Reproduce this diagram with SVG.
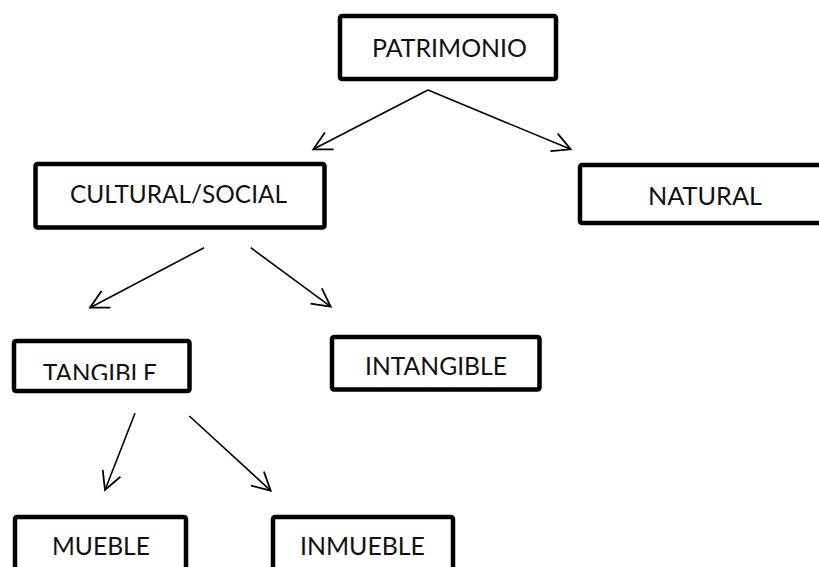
<svg xmlns="http://www.w3.org/2000/svg" width="819" height="567" viewBox="0 0 819 567">
<style>
.box{fill:#fff;stroke:#000;stroke-width:4.5;}
.lbl{font-family:Lato,"Liberation Sans",sans-serif;font-size:25px;fill:#111;text-anchor:middle;}
.edge{stroke:#000;stroke-width:1.6;fill:none;marker-end:url(#arr);}
</style>
<defs>
<marker id="arr" markerUnits="userSpaceOnUse" orient="auto" viewBox="-22 -12 24 24" refX="0" refY="0" markerWidth="24" markerHeight="24" overflow="visible">
<path d="M-18,-9.5 L0,0 L-18,9.5" fill="none" stroke="#000" stroke-width="1.8" stroke-linejoin="miter"/>
</marker>
<clipPath id="tclip"><rect x="0" y="330" width="200" height="50"/></clipPath>
</defs>
<rect width="819" height="567" fill="#fff"/>
<g id="connectors">
<line class="edge" x1="428" y1="90" x2="313.3" y2="149.3"/>
<line class="edge" x1="428" y1="90" x2="570.7" y2="149.3"/>
<line class="edge" x1="204" y1="247.7" x2="90" y2="307.7"/>
<line class="edge" x1="250.7" y1="247.7" x2="330.7" y2="306.7"/>
<line class="edge" x1="135" y1="413.3" x2="105" y2="490"/>
<line class="edge" x1="189.3" y1="416" x2="270.7" y2="490.7"/>
</g>
<g id="patrimonio">
<rect class="box" x="340" y="16" width="216" height="63" rx="2"/>
<text class="lbl" x="449.5" y="56.5" textLength="155" lengthAdjust="spacingAndGlyphs">PATRIMONIO</text>
</g>
<g id="cultural">
<rect class="box" x="35.5" y="164" width="289" height="63.5" rx="2"/>
<text class="lbl" x="178.5" y="203.3" textLength="217" lengthAdjust="spacingAndGlyphs">CULTURAL/SOCIAL</text>
</g>
<g id="natural">
<rect class="box" x="580" y="165" width="260" height="58" rx="2"/>
<text class="lbl" x="705" y="205" textLength="114" lengthAdjust="spacingAndGlyphs">NATURAL</text>
</g>
<g id="tangible">
<rect class="box" x="14" y="341" width="175.5" height="50" rx="2"/>
<text class="lbl" x="100" y="381.5" textLength="114" lengthAdjust="spacingAndGlyphs" clip-path="url(#tclip)">TANGIBLE</text>
</g>
<g id="intangible">
<rect class="box" x="332" y="337" width="207.5" height="52.5" rx="2"/>
<text class="lbl" x="436" y="375" textLength="142" lengthAdjust="spacingAndGlyphs">INTANGIBLE</text>
</g>
<g id="mueble">
<rect class="box" x="15" y="517" width="171" height="100" rx="2"/>
<text class="lbl" x="101" y="555" textLength="98" lengthAdjust="spacingAndGlyphs">MUEBLE</text>
</g>
<g id="inmueble">
<rect class="box" x="273" y="517" width="180" height="100" rx="2"/>
<text class="lbl" x="362.5" y="555" textLength="125" lengthAdjust="spacingAndGlyphs">INMUEBLE</text>
</g>
</svg>
